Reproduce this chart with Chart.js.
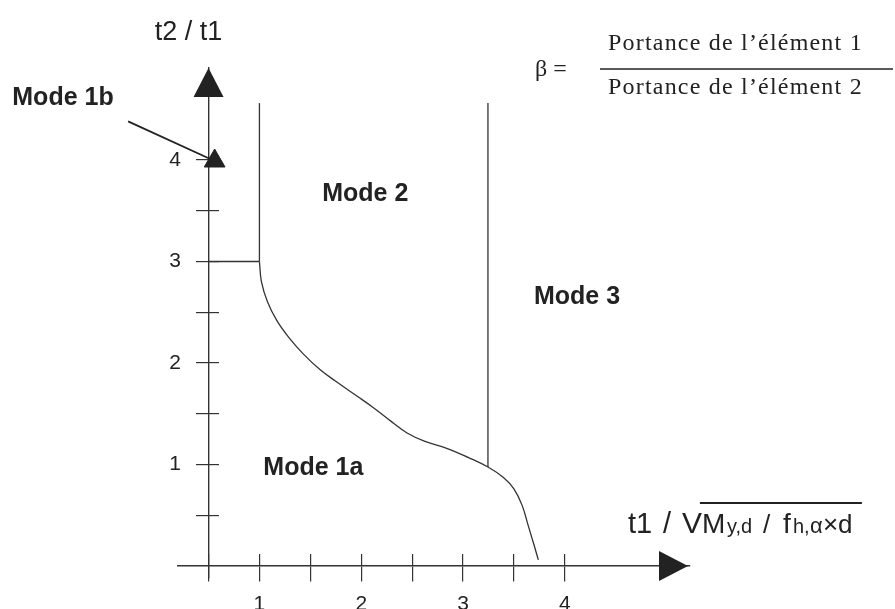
<!DOCTYPE html>
<html><head><meta charset="utf-8">
<script src="https://cdn.jsdelivr.net/npm/chart.js@4.4.1/dist/chart.umd.min.js"></script>
<style>html,body{margin:0;padding:0;background:#fff;} canvas{display:block;}</style>
</head><body>
<canvas id="c" width="895" height="609"></canvas>
<script>
// ---- data ----
const xTicks = [0.5, 1, 1.5, 2, 2.5, 3, 3.5, 4];
const xTickLabels = ['', '1', '', '2', '', '3', '', '4'];
const yTicks = [0.5, 1, 1.5, 2, 2.5, 3, 3.5, 4];
const yTickLabels = ['', '1', '', '2', '', '3', '', '4'];

const curveX = [1.0, 1.02, 1.08, 1.17, 1.29, 1.43, 1.6, 1.75, 1.95, 2.12, 2.3, 2.45, 2.62, 2.84, 3.05, 3.245, 3.4, 3.5, 3.58, 3.64, 3.7, 3.74];
const curveY = [3.0, 2.80, 2.60, 2.42, 2.25, 2.09, 1.93, 1.82, 1.68, 1.56, 1.42, 1.31, 1.23, 1.16, 1.07, 0.975, 0.87, 0.76, 0.60, 0.40, 0.20, 0.06];

const mode1bLineX = [0.5, 1];
const mode1bLineY = [3, 3];
const mode2LineX = [1, 1];
const mode2LineY = [3, 4.56];
const mode3LineX = [3.245, 3.245];
const mode3LineY = [0.975, 4.56];
const pointerX = [-0.29, 0.56];
const pointerY = [4.38, 3.99];

const regionLabels = ['Mode 1b', 'Mode 2', 'Mode 3', 'Mode 1a'];
const regionX = [-0.93, 2.04, 4.12, 1.53];
const regionY = [4.61, 3.665, 2.65, 0.966];

const yTitle = 't2 / t1';
const xTitleParts = ['t1', '/', 'V', 'M', 'y,d', '/', 'f', 'h,', 'α', '×d'];
const betaText = 'β =';
const numeratorText = 'Portance de l\u2019élément 1';
const denominatorText = 'Portance de l\u2019élément 2';

// ---- styles ----
const INK = '#333';
const TXT = '#222';
const SANS = '"Liberation Sans", Arial, Helvetica, sans-serif';
const SERIF = '"Liberation Serif", "Times New Roman", serif';

const xTitleOffsets = [0, 35, 54, 74, 99, 135, 155, 165, 182, 195];
const xTitleSizes = [29, 29, 30, 28, 20, 26, 28, 20, 22, 26];

function pts(xs, ys) { return xs.map((x, i) => ({x: x, y: ys[i]})); }
function lineDs(xs, ys, extra) {
  return Object.assign({
    data: pts(xs, ys), showLine: true, borderColor: INK, borderWidth: 1.3,
    pointRadius: 0, tension: 0, fill: false
  }, extra || {});
}

const decor = {
  id: 'decor',
  afterDraw(chart) {
    const ctx = chart.ctx, xs = chart.scales.x, ys = chart.scales.y, ca = chart.chartArea;
    const ax = xs.getPixelForValue(0.5), ay = ys.getPixelForValue(0);
    ctx.save();
    ctx.fillStyle = '#222';
    // y-axis arrow
    ctx.beginPath();
    ctx.moveTo(ax, ca.top);
    ctx.lineTo(ax - 15, ca.top + 29);
    ctx.lineTo(ax + 15, ca.top + 29);
    ctx.closePath(); ctx.fill();
    // x-axis arrow
    ctx.beginPath();
    ctx.moveTo(ca.right - 2, ay);
    ctx.lineTo(ca.right - 31, ay - 15);
    ctx.lineTo(ca.right - 31, ay + 15);
    ctx.closePath(); ctx.fill();

    // region labels
    ctx.fillStyle = TXT;
    ctx.font = 'bold 25px ' + SANS;
    ctx.textAlign = 'center';
    ctx.textBaseline = 'middle';
    regionLabels.forEach((t, i) => {
      ctx.fillText(t, xs.getPixelForValue(regionX[i]), ys.getPixelForValue(regionY[i]));
    });

    // y title
    ctx.font = '27px ' + SANS;
    ctx.textBaseline = 'alphabetic';
    ctx.fillText(yTitle, ax - 20, ca.top - 28);

    // x title
    ctx.textAlign = 'left';
    const x0 = xs.getPixelForValue(4.62), base = ay - 33;
    xTitleParts.forEach((t, i) => {
      ctx.font = xTitleSizes[i] + 'px ' + SANS;
      ctx.fillText(t, x0 + xTitleOffsets[i], base);
    });
    ctx.strokeStyle = '#222';
    ctx.lineWidth = 2;
    ctx.beginPath();
    ctx.moveTo(x0 + 72, base - 30);
    ctx.lineTo(x0 + 234, base - 30);
    ctx.stroke();

    // formula
    ctx.font = '24px ' + SERIF;
    ctx.fillText(betaText, 535, 76);
    ctx.letterSpacing = '1.2px';
    ctx.fillText(numeratorText, 608, 50);
    ctx.fillText(denominatorText, 608, 94);
    ctx.letterSpacing = '0px';
    ctx.lineWidth = 1.5;
    ctx.beginPath();
    ctx.moveTo(600, 69);
    ctx.lineTo(893, 69);
    ctx.stroke();
    ctx.restore();
  }
};

function tickSetter(vals) { return s => { s.ticks = vals.map(v => ({value: v})); }; }

const X_MIN = 0.2, X_MAX = 5.23, Y_MIN = -0.118, Y_MAX = 4.906;

new Chart(document.getElementById('c'), {
  type: 'scatter',
  data: {
    datasets: [
      lineDs(curveX, curveY, {tension: 0.4}),
      lineDs(mode1bLineX, mode1bLineY),
      lineDs(mode2LineX, mode2LineY),
      lineDs(mode3LineX, mode3LineY),
      lineDs(pointerX, pointerY, {clip: false, borderWidth: 1.8, borderColor: '#222',
        pointRadius: [0, 12], pointStyle: 'triangle', pointBackgroundColor: '#222', pointBorderColor: '#222', pointBorderWidth: 1})
    ]
  },
  options: {
    responsive: false, animation: false, devicePixelRatio: 1,
    layout: {autoPadding: false, padding: {left: 178, right: 205, top: 68, bottom: 31}},
    plugins: {legend: {display: false}, tooltip: {enabled: false}},
    scales: {
      x: {
        type: 'linear', min: X_MIN, max: X_MAX, position: {y: 0},
        afterBuildTicks: tickSetter(xTicks),
        grid: {drawOnChartArea: false, drawTicks: true, tickLength: 15, color: INK, lineWidth: 1.2},
        border: {color: INK, width: 1.4},
        ticks: {padding: 11, color: TXT, font: {family: SANS, size: 21},
          callback: v => xTickLabels[xTicks.indexOf(v)] || ''}
      },
      x2: {
        type: 'linear', axis: 'x', min: X_MIN, max: X_MAX, position: {y: 0},
        afterBuildTicks: tickSetter(xTicks),
        grid: {drawOnChartArea: false, drawTicks: true, tickLength: -12, color: INK, lineWidth: 1.2},
        border: {display: false},
        ticks: {display: false}
      },
      y: {
        type: 'linear', min: Y_MIN, max: Y_MAX, position: {x: 0.5},
        afterBuildTicks: tickSetter(yTicks),
        grid: {drawOnChartArea: false, drawTicks: true, tickLength: 12, color: INK, lineWidth: 1.2},
        border: {color: INK, width: 1.4},
        ticks: {display: false}
      },
      y2: {
        type: 'linear', axis: 'y', min: Y_MIN, max: Y_MAX, position: {x: 0.5},
        afterBuildTicks: tickSetter(yTicks),
        grid: {drawOnChartArea: false, drawTicks: true, tickLength: -10, color: INK, lineWidth: 1.2},
        border: {display: false},
        ticks: {display: false}
      },
      yLabels: {
        type: 'linear', axis: 'y', min: Y_MIN, max: Y_MAX, position: {x: 0.23},
        afterBuildTicks: tickSetter(yTicks),
        grid: {display: false, drawTicks: false},
        border: {display: false},
        ticks: {padding: 0, color: TXT, font: {family: SANS, size: 21},
          callback: v => yTickLabels[yTicks.indexOf(v)] || ''}
      }
    }
  },
  plugins: [decor]
});
</script>
</body></html>
